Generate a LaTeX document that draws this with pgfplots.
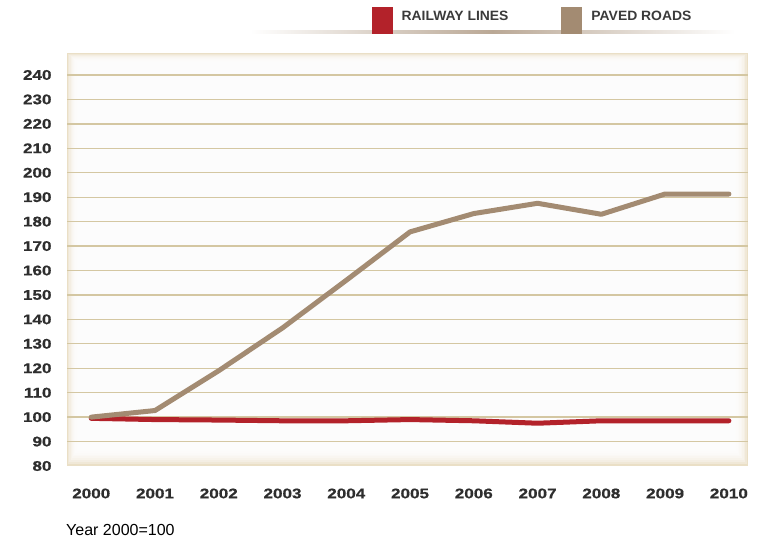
\documentclass[border=0pt]{standalone}
\usepackage{fontspec}
\setmainfont{Liberation Sans}
\usepackage{pgfplots}
\pgfplotsset{compat=1.18}
\newfontfamily\tickfont{Liberation Sans Bold}[FakeStretch=1.22, FakeBold=0.6]
\newfontfamily\legfont{Liberation Sans Bold}[FakeStretch=1.03]
\definecolor{railred}{HTML}{B3222A}
\definecolor{paved}{HTML}{A38B72}
\definecolor{gridtan}{HTML}{D4C7A2}
\definecolor{txt}{HTML}{2E2E2E}
\definecolor{legtxt}{HTML}{3A3A3A}
\definecolor{bgbeige}{HTML}{EADFC6}
\begin{document}
\begin{tikzpicture}
\useasboundingbox (0,0) rectangle (762bp,540bp);
% plot-area background with soft inner shadow
\fill[bgbeige] (67bp,74bp) rectangle (748bp,487bp);
\foreach \i in {1,...,9}{
  \fill[white, fill opacity=0.3] ({67bp+1.2bp*\i},{74bp+1.9bp*\i}) rectangle ({748bp-1.5bp*\i},{487bp-1.0bp*\i});
}
% faded rule under legend
\shade[left color=white, right color=white, middle color=paved!75] (250bp,506.5bp) rectangle (735bp,509.5bp);
\begin{axis}[
  at={(67bp,74bp)}, anchor=south west,
  scale only axis, width=681bp, height=413bp,
  xmin=1999.62, xmax=2010.3, ymin=80, ymax=249,
  xtick={2000,2001,...,2010}, ytick={90,100,...,240},
  extra y ticks={80}, extra y tick style={grid=none},
  /pgf/number format/assume math mode=true,
  /pgf/number format/1000 sep={},
  tick label style={font=\tickfont\fontsize{14bp}{16bp}\selectfont, text=txt},
  yticklabel style={xshift=-12bp},
  xticklabel style={yshift=-19bp},
  axis line style={draw=none},
  major tick length=0pt,
  ymajorgrids,
  grid style={gridtan, line width=1.3bp},
  legend columns=2,
  legend style={at={(axis description cs:0.447,1)}, anchor=south west, yshift=19bp,
    inner xsep=0pt, inner ysep=0pt,
    draw=none, fill=none, font=\legfont\fontsize{13.5bp}{15bp}\selectfont, text=legtxt,
    /tikz/every even column/.append style={column sep=51bp}},
  legend image code/.code={\fill[#1, draw=none] (0bp,-17bp) rectangle (21bp,10bp);
     \path[draw=none, fill=none] (0bp,-1bp) rectangle (28bp,1bp);},
]
\addplot[railred, line width=5bp, line join=round, line cap=round] coordinates {
(2000,99.5) (2001,99) (2002,98.8) (2003,98.5) (2004,98.5) (2005,99) (2006,98.5) (2007,97.5) (2008,98.5) (2009,98.5) (2010,98.5)};
\addlegendentry{RAILWAY LINES}
\addplot[paved, line width=5bp, line join=round, line cap=round] coordinates {
(2000,100) (2001,102.7) (2002,119) (2003,136.5) (2004,156) (2005,175.8) (2006,183.3) (2007,187.5) (2008,183) (2009,191.3) (2010,191.3)};
\addlegendentry{PAVED ROADS}
\end{axis}
\node[anchor=west, font=\fontsize{16bp}{18bp}\selectfont, text=black, inner sep=0pt] at (66bp,10bp) {Year 2000=100};
\end{tikzpicture}
\end{document}
